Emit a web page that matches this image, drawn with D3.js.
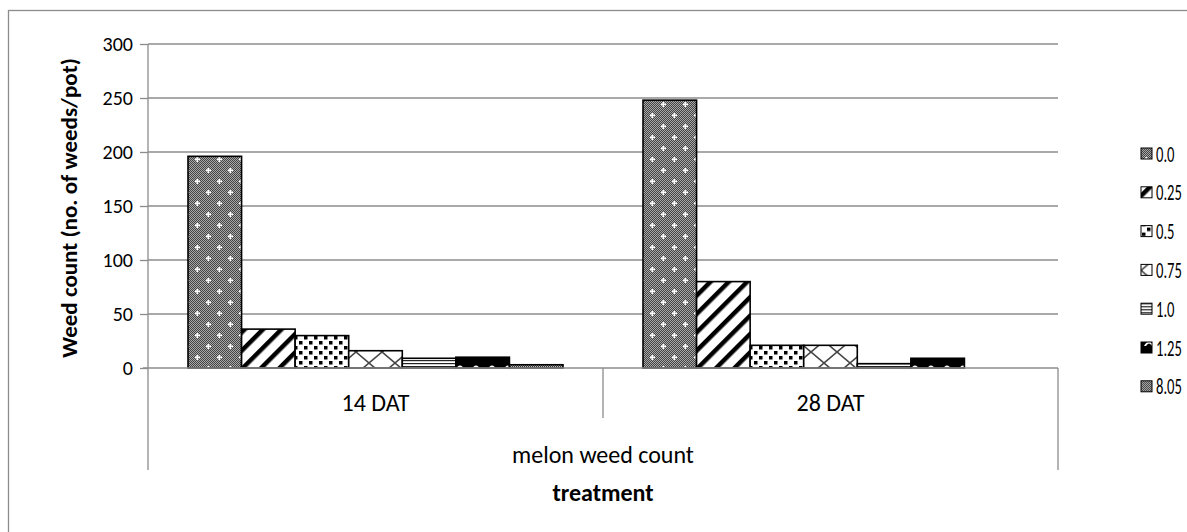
<!DOCTYPE html>
<html><head><meta charset="utf-8">
<script src="https://cdn.jsdelivr.net/npm/d3@7"></script>
<style>
html,body{margin:0;padding:0;background:#fff;}
svg{display:block;font-family:Carlito,Lato,"Open Sans",sans-serif;}
</style></head>
<body><svg id="c" width="1187" height="532"></svg>
<script>
const categories = ["14 DAT", "28 DAT"];
const seriesNames = ["0.0", "0.25", "0.5", "0.75", "1.0", "1.25", "8.05"];
const values14 = [196, 36, 30, 16, 9, 10, 3];
const values28 = [248, 80, 21, 21, 4, 9, 0];
const yTicks = [0, 50, 100, 150, 200, 250, 300];
const groupLabel = "melon weed count";
const xTitle = "treatment";
const yTitle = "Weed count (no. of weeds/pot)";

const seriesValues = [values14, values28];
const svg = d3.select("#c");
const defs = svg.append("defs");

function pat(id, w, h, transform){
  const p = defs.append("pattern").attr("id", id).attr("patternUnits","userSpaceOnUse")
    .attr("width", w).attr("height", h);
  if (transform) p.attr("patternTransform", transform);
  return p;
}
// 0.0 gray texture with white plus
{
  const p = pat("p0", 22, 22);
  p.append("rect").attr("width",22).attr("height",22).attr("fill","#a8a8a8");
  for (let i=0;i<22;i++) for (let j=0;j<22;j++){
    if ((i+j)%2===0) p.append("rect").attr("x",i).attr("y",j).attr("width",1).attr("height",1).attr("fill","#444");
  }
  [[5,5],[16,16]].forEach(([x,y])=>{
    p.append("rect").attr("x",x-2).attr("y",y-0.5).attr("width",5).attr("height",1.6).attr("fill","#fff");
    p.append("rect").attr("x",x-0.5).attr("y",y-2).attr("width",1.6).attr("height",5).attr("fill","#fff");
  });
}
// 0.25 wide diagonal stripes
{
  const p = pat("p1", 13, 13, "rotate(45)");
  p.append("rect").attr("width",13).attr("height",13).attr("fill","#fff");
  p.append("rect").attr("x",0).attr("width",4.5).attr("height",13).attr("fill","#000");
}
// 0.5 black squares
{
  const p = pat("p2", 10, 10);
  p.append("rect").attr("width",10).attr("height",10).attr("fill","#fff");
  p.append("rect").attr("x",1).attr("y",1).attr("width",3.5).attr("height",3.5).attr("fill","#000");
  p.append("rect").attr("x",6).attr("y",6).attr("width",3.5).attr("height",3.5).attr("fill","#000");
}
// 0.75 big cross-hatch
{
  const p = pat("p3", 26, 22);
  p.append("rect").attr("width",26).attr("height",22).attr("fill","#fff");
  p.append("line").attr("x1",0).attr("y1",0).attr("x2",26).attr("y2",22).attr("stroke","#444").attr("stroke-width",1.6);
  p.append("line").attr("x1",26).attr("y1",0).attr("x2",0).attr("y2",22).attr("stroke","#444").attr("stroke-width",1.6);
}
// 1.0 horizontal lines
{
  const p = pat("p4", 4, 3);
  p.append("rect").attr("width",4).attr("height",3).attr("fill","#fff");
  p.append("rect").attr("y",0).attr("width",4).attr("height",1.2).attr("fill","#222");
}
// 1.25 black with white arches
{
  const p = pat("p5", 16, 12);
  p.append("rect").attr("width",16).attr("height",12).attr("fill","#000");
  p.append("path").attr("d","M3,10 Q8,1 13,10 L11,10 Q8,5 5,10 Z").attr("fill","#fff");
}
// 8.05 fine checker
{
  const p = pat("p6", 2, 2);
  p.append("rect").attr("width",2).attr("height",2).attr("fill","#bdbdbd");
  p.append("rect").attr("width",1).attr("height",1).attr("fill","#333");
  p.append("rect").attr("x",1).attr("y",1).attr("width",1).attr("height",1).attr("fill","#333");
}
const fills = seriesNames.map((d,i)=>`url(#p${i})`);

// outer border (top/left visible)
svg.append("rect").attr("x",8.5).attr("y",10.5).attr("width",1300).attr("height",600)
  .attr("fill","none").attr("stroke","#8c8c8c").attr("stroke-width",1.3);

const plotL = 148, plotR = 1058, plotT = 44, plotB = 368, axisBottom = 470;
const y = d3.scaleLinear().domain([0,300]).range([plotB, plotT]);
const x0 = d3.scaleBand().domain(categories).range([plotL, plotR]).padding(0);
const x1 = d3.scaleBand().domain(seriesNames).range([40, x0.bandwidth()-40]).padding(0);

// gridlines
svg.append("g").selectAll("line").data(yTicks.filter(t=>t>0)).join("line")
  .attr("x1",plotL).attr("x2",plotR).attr("y1",d=>y(d)).attr("y2",d=>y(d))
  .attr("stroke","#8c8c8c").attr("stroke-width",1.3);

// y axis
const yAxis = d3.axisLeft(y).tickValues(yTicks).tickSize(8).tickPadding(7);
const gy = svg.append("g").attr("transform",`translate(${plotL},0)`).call(yAxis);
gy.select(".domain").remove();
gy.selectAll(".tick line").attr("stroke","#8c8c8c").attr("stroke-width",1.3);
gy.selectAll(".tick text").attr("font-size",20).attr("fill","#000").attr("font-family","Carlito,Lato,sans-serif");
svg.append("line").attr("x1",plotL).attr("x2",plotL).attr("y1",plotT).attr("y2",axisBottom)
  .attr("stroke","#8c8c8c").attr("stroke-width",1.3);

// bars
categories.forEach((c,ci)=>{
  const g = svg.append("g").attr("transform",`translate(${x0(c)},0)`);
  g.selectAll("rect").data(seriesValues[ci].map((v,i)=>({v,i}))).join("rect")
    .filter(d=>d.v>0)
    .attr("x",d=>x1(seriesNames[d.i])).attr("width",x1.bandwidth())
    .attr("y",d=>y(d.v)).attr("height",d=>y(0)-y(d.v))
    .attr("fill",d=>fills[d.i]).attr("stroke","#000").attr("stroke-width",1.6);
});

// x axis
svg.append("line").attr("x1",plotL-5).attr("x2",plotR).attr("y1",plotB).attr("y2",plotB)
  .attr("stroke","#8c8c8c").attr("stroke-width",1.3);
categories.slice(1).forEach(c=>{
  svg.append("line").attr("x1",x0(c)).attr("x2",x0(c)).attr("y1",plotB).attr("y2",418)
    .attr("stroke","#8c8c8c").attr("stroke-width",1.3);
});
svg.append("line").attr("x1",plotR).attr("x2",plotR).attr("y1",plotB).attr("y2",axisBottom)
  .attr("stroke","#8c8c8c").attr("stroke-width",1.3);
svg.append("g").selectAll("text").data(categories).join("text")
  .attr("x",d=>x0(d)+x0.bandwidth()/2).attr("y",411).attr("text-anchor","middle")
  .attr("font-size",24).text(d=>d);
svg.append("text").attr("x",(plotL+plotR)/2).attr("y",463).attr("text-anchor","middle")
  .attr("font-size",24).text(groupLabel);
svg.append("text").attr("x",(plotL+plotR)/2).attr("y",501).attr("text-anchor","middle")
  .attr("font-size",24).attr("font-weight","bold").text(xTitle);
svg.append("text").attr("transform",`translate(77,208) rotate(-90)`)
  .attr("text-anchor","middle").attr("font-size",23).attr("font-weight","bold").text(yTitle);

// legend
const leg = svg.append("g").selectAll("g").data(seriesNames).join("g")
  .attr("transform",(d,i)=>`translate(1141,${154 + i*38.8})`);
leg.append("rect").attr("x",0).attr("y",-6).attr("width",11).attr("height",11)
  .attr("fill",(d,i)=>fills[i]).attr("stroke","#000").attr("stroke-width",1);
leg.append("text").attr("transform","translate(15,7.5) scale(0.68,1)").attr("font-size",21.5)
  .text(d=>d);
</script></body></html>
